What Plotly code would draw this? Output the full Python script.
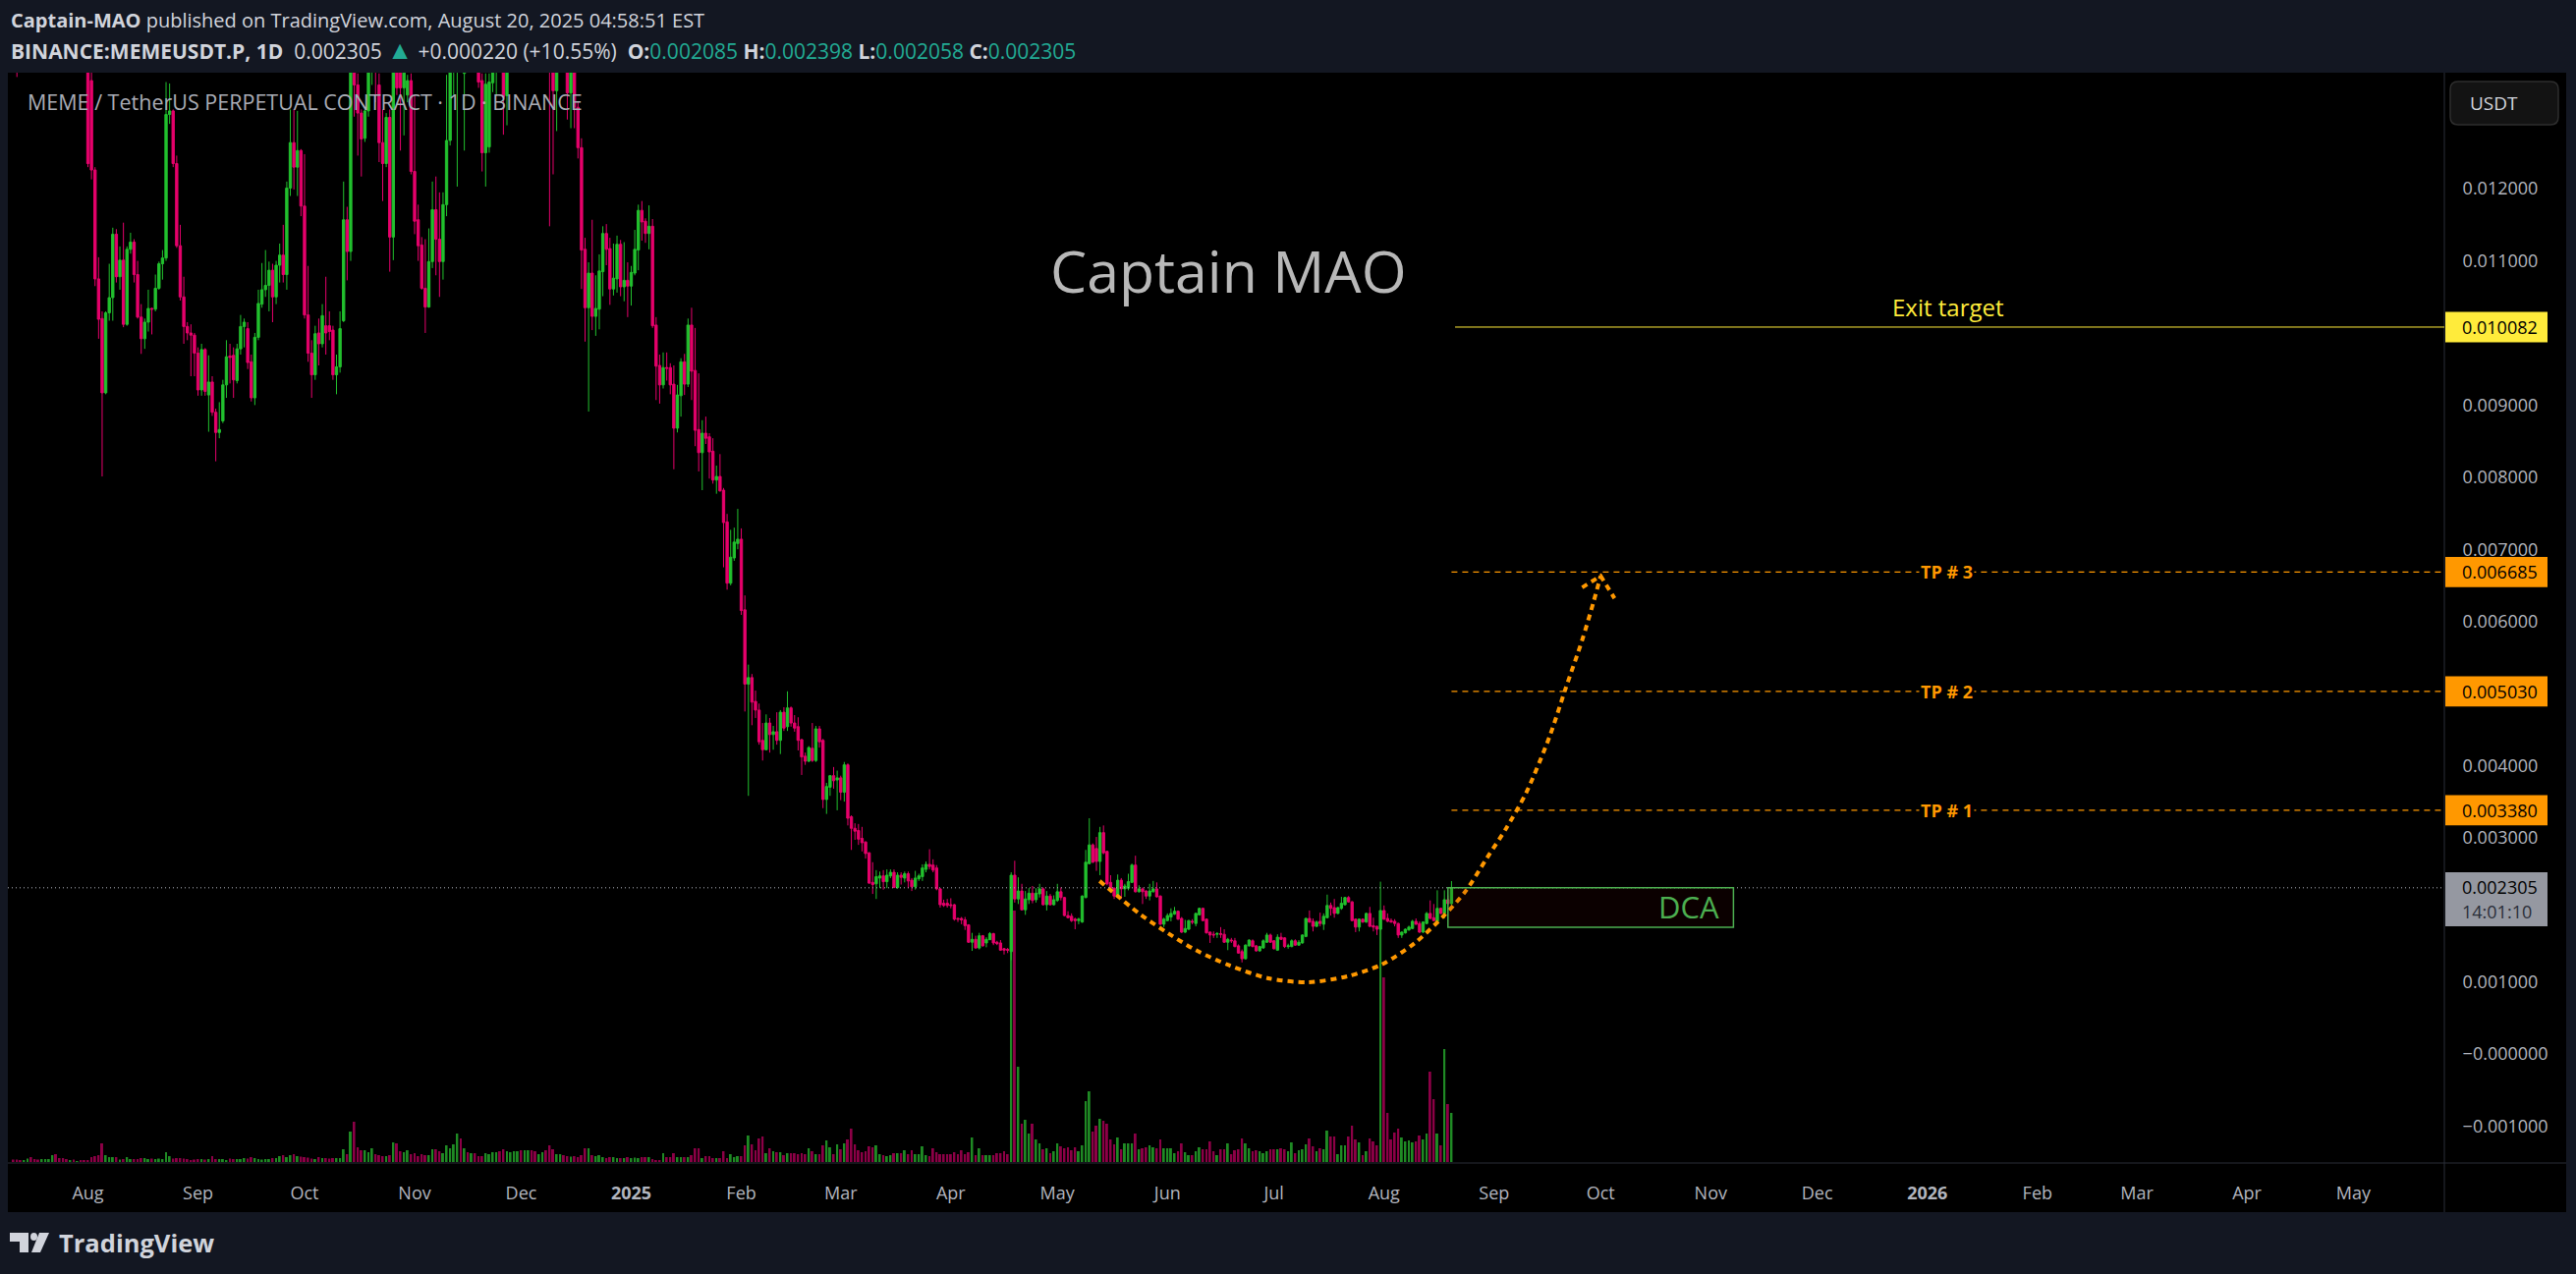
"""MEME / USDT daily chart with targets, redrawn from a published TradingView picture"""
import pandas as pd
import plotly.graph_objects as go

# daily candles, prices in thousandths of USDT, first bar 2024-07-11
first_day = pd.Timestamp("2024-07-11")

open_m = [
    15.2,14.9,14.6,14.4,14.8,15.1,14.8,14.6,14.4,14.7,
    14.9,15.2,15.8,15.3,15.0,14.8,14.6,14.9,14.7,14.9,
    14.6,14.2,13.5,12.26,10.75,10.2,9.17,10.28,10.49,11.37,
    10.78,11.01,10.12,11.16,11.26,10.81,10.22,9.92,10.15,10.34,
    10.33,10.62,10.96,11.04,13.03,13.08,12.35,11.21,10.50,10.09,
    10.00,9.97,9.72,9.21,9.77,9.14,9.32,8.90,8.62,8.78,
    9.28,9.68,9.69,9.34,9.78,10.09,10.06,9.60,9.10,9.94,
    10.40,10.60,10.66,10.87,10.50,10.94,11.08,10.81,12.01,12.64,
    12.30,12.53,11.76,10.25,9.72,9.42,10.0,9.85,10.10,10.10,
    10.04,9.42,9.53,10.17,11.57,11.13,14.2,13.44,13.05,12.7,
    13.08,13.9,14.3,13.44,12.64,12.35,12.99,11.33,13.9,13.8,
    13.4,13.3,13.5,12.24,11.57,11.22,10.62,10.36,10.99,11.71,
    11.30,10.99,11.78,12.67,14.0,14.1,14.4,13.6,14.2,14.0,
    14.4,14.2,13.5,12.5,12.58,13.47,13.7,14.3,14.4,13.29,
    14.3,14.6,14.8,15.0,14.8,15.1,15.3,15.0,14.8,15.0,
    15.2,15.0,14.4,13.36,14.4,14.6,14.3,13.33,14.2,13.13,
    12.57,11.16,10.35,10.83,10.23,10.33,10.85,11.38,11.17,10.61,
    10.75,11.23,10.64,10.73,10.65,10.83,11.15,11.70,11.55,11.38,
    11.48,10.11,9.55,9.28,9.52,9.52,9.29,8.68,9.13,9.60,
    9.29,10.11,9.48,8.66,8.34,8.61,8.56,8.36,7.96,8.01,
    7.82,7.38,6.53,6.88,7.08,7.14,6.16,5.13,5.22,4.89,
    4.77,4.35,4.22,4.59,4.43,4.47,4.35,4.74,4.54,4.80,
    4.59,4.54,4.36,4.13,4.06,4.24,4.07,4.51,4.35,3.53,
    3.70,3.86,3.80,3.83,3.63,4.01,3.29,3.13,3.10,2.99,
    2.94,2.79,2.38,2.36,2.44,2.47,2.39,2.47,2.52,2.31,
    2.48,2.44,2.50,2.41,2.32,2.43,2.46,2.56,2.63,2.62,
    2.58,2.29,2.09,2.09,2.07,2.07,1.88,1.88,1.86,1.79,
    1.55,1.59,1.47,1.64,1.54,1.585,1.67,1.55,1.54,1.46,
    1.45,1.42,2.48,2.15,2.26,2.00,2.14,2.23,2.14,2.22,
    2.29,2.07,2.19,2.07,2.13,2.25,2.17,1.92,1.91,1.87,
    1.85,1.83,2.17,2.64,2.90,2.85,2.67,3.07,2.81,2.38,
    2.30,2.19,2.41,2.29,2.30,2.38,2.62,2.25,2.29,2.26,
    2.19,2.25,2.29,2.19,1.80,1.85,1.90,1.94,1.98,1.88,
    1.69,1.73,1.84,1.81,1.93,2.02,1.87,1.69,1.66,1.66,
    1.67,1.66,1.55,1.58,1.57,1.50,1.42,1.32,1.50,1.57,
    1.50,1.43,1.47,1.55,1.65,1.57,1.44,1.62,1.61,1.49,
    1.49,1.57,1.51,1.54,1.63,1.88,1.84,1.77,1.84,1.80,
    1.89,2.06,2.03,1.95,2.02,2.07,2.17,2.11,1.87,1.76,
    1.87,1.83,1.95,1.78,1.77,1.73,1.99,1.88,1.85,1.84,
    1.81,1.65,1.68,1.72,1.74,1.84,1.81,1.69,1.81,1.95,
    1.89,1.84,2.02,1.95,2.14,2.085,
]
high_m = [
    15.4,15.3,14.8,14.9,15.3,15.3,15.0,14.8,14.9,15.1,
    15.4,16.0,16.0,15.5,15.2,15.0,15.1,15.1,15.1,15.1,
    14.8,14.5,14.0,12.3,11.05,10.3,10.3,10.96,11.46,11.44,
    11.2,11.53,11.2,11.39,11.3,11.0,10.4,10.2,10.6,10.35,
    10.81,10.99,11.15,13.48,13.46,13.1,12.46,11.5,10.78,10.15,
    10.12,10.0,9.8,9.85,9.79,9.69,9.4,8.95,9.04,9.35,
    9.9,9.85,9.8,9.85,10.25,10.2,10.15,9.7,10.0,10.6,
    10.97,11.15,10.99,10.96,11.0,11.24,11.5,12.1,13.1,13.1,
    13.08,12.55,12.48,10.93,9.9,10.1,10.2,10.4,10.78,10.3,
    10.1,9.7,10.3,12.1,11.75,14.5,14.5,13.6,13.1,13.1,
    14.2,14.6,14.6,13.6,13.1,13.05,13.1,14.2,14.2,14.2,
    14.2,13.58,13.6,13.3,11.78,11.33,11.3,11.45,12.1,12.17,
    11.95,11.95,13.58,14.3,14.6,14.6,14.7,14.4,14.4,14.5,
    14.6,14.5,13.6,13.6,13.6,14.5,14.4,14.5,14.6,14.5,
    14.8,15.0,15.2,15.2,15.3,15.5,15.5,15.2,15.2,15.4,
    15.4,15.2,14.6,14.6,14.8,14.8,14.6,14.6,14.4,13.2,
    12.70,11.32,10.98,11.57,10.80,11.09,11.48,11.51,11.32,11.24,
    11.35,11.29,11.26,10.98,10.93,11.43,11.78,11.83,11.59,11.77,
    11.58,10.22,9.70,9.73,9.73,9.58,9.55,9.28,9.65,9.71,
    10.20,10.35,10.07,9.44,8.79,8.84,8.61,8.54,8.16,8.32,
    7.85,7.49,7.27,7.30,7.56,7.29,6.36,5.40,5.27,5.04,
    4.86,4.59,4.71,4.66,4.55,4.74,4.77,4.81,5.03,4.82,
    4.70,4.67,4.37,4.18,4.27,4.59,4.55,4.55,4.37,3.76,
    3.87,3.98,3.93,3.86,4.05,4.03,3.31,3.20,3.19,3.15,
    2.95,2.80,2.66,2.55,2.53,2.55,2.56,2.56,2.56,2.52,
    2.52,2.53,2.53,2.44,2.54,2.50,2.63,2.67,2.84,2.70,
    2.62,2.30,2.14,2.15,2.16,2.08,1.89,1.90,1.90,1.80,
    1.68,1.64,1.68,1.65,1.62,1.69,1.68,1.57,1.58,1.47,
    1.47,2.52,2.68,2.45,2.36,2.26,2.30,2.33,2.30,2.36,
    2.31,2.26,2.22,2.20,2.36,2.31,2.18,1.98,1.95,1.89,
    1.89,2.20,2.83,3.27,2.92,3.01,3.15,3.17,2.82,2.48,
    2.31,2.49,2.44,2.36,2.50,2.64,2.75,2.34,2.31,2.27,
    2.36,2.40,2.38,2.20,1.89,1.95,2.02,2.04,1.99,1.90,
    1.86,1.86,1.87,1.96,2.03,2.03,1.88,1.70,1.70,1.69,
    1.76,1.73,1.61,1.61,1.61,1.52,1.45,1.52,1.59,1.59,
    1.51,1.50,1.59,1.68,1.67,1.58,1.66,1.68,1.62,1.53,
    1.59,1.59,1.58,1.66,1.89,1.99,1.88,1.85,1.96,1.95,
    2.21,2.10,2.15,2.04,2.18,2.18,2.19,2.12,1.88,1.88,
    1.88,1.96,2.04,1.89,1.78,2.39,2.06,1.95,1.88,1.87,
    1.82,1.70,1.74,1.78,1.86,1.88,1.84,1.84,1.97,2.13,
    2.08,2.27,2.03,2.27,2.2,2.398,
]
low_m = [
    14.7,13.55,14.2,14.2,14.6,14.6,14.4,14.2,14.2,14.5,
    14.7,15.0,15.1,14.8,14.6,14.4,14.4,14.5,14.5,14.4,
    14.0,12.3,12.13,10.65,9.92,8.01,9.15,10.17,10.17,10.7,
    10.6,10.08,10.1,11.1,10.7,10.2,9.71,9.78,10.02,9.98,
    10.3,10.6,10.74,11.0,12.9,12.3,11.18,10.45,9.85,9.9,
    9.4,9.40,9.13,9.13,9.13,8.63,8.85,8.22,8.54,8.75,
    9.1,9.3,9.1,9.3,9.7,9.8,9.5,9.05,9.0,9.9,
    10.35,10.5,10.3,10.15,10.4,10.7,10.7,10.6,11.9,11.99,
    11.9,11.62,10.2,9.6,9.1,9.35,9.55,9.8,9.7,9.9,
    9.35,9.15,9.45,10.15,10.73,11.0,13.0,12.46,12.17,12.65,
    13.0,13.44,13.2,12.37,11.83,12.3,10.85,11.01,13.3,12.53,
    12.74,13.2,12.2,11.37,11.0,10.6,10.0,10.35,10.9,10.8,
    10.5,10.74,11.62,12.6,13.3,12.03,13.9,12.53,13.8,13.8,
    13.9,13.4,12.24,12.03,12.5,13.34,13.29,13.8,12.75,12.88,
    14.1,14.4,14.6,14.6,14.6,14.9,14.8,14.6,14.6,14.8,
    14.8,11.48,12.2,12.8,14.0,14.0,12.96,12.84,12.84,12.42,
    10.61,9.88,8.91,10.04,9.96,10.05,10.51,10.94,10.39,10.52,
    10.56,10.51,10.44,10.22,10.38,10.80,10.87,11.28,11.25,11.16,
    10.07,9.07,9.02,9.23,9.34,9.15,8.11,8.62,8.84,9.14,
    9.25,9.07,8.43,8.08,7.82,8.46,7.98,7.91,7.77,7.80,
    6.75,6.44,6.50,6.84,7.00,6.09,4.75,3.58,4.56,4.66,
    4.29,4.07,4.21,4.18,4.22,4.29,4.16,4.48,4.48,4.54,
    4.47,4.21,3.87,4.01,4.05,4.05,4.05,4.25,3.41,3.33,
    3.58,3.68,3.38,3.52,3.50,3.17,2.83,2.97,2.90,2.81,
    2.71,2.36,2.22,2.15,2.30,2.28,2.30,2.44,2.30,2.29,
    2.35,2.38,2.30,2.26,2.28,2.40,2.40,2.52,2.56,2.52,
    2.27,2.03,2.04,2.03,2.02,1.85,1.83,1.80,1.72,1.54,
    1.43,1.46,1.45,1.49,1.48,1.58,1.51,1.51,1.43,1.38,
    1.40,1.30,2.10,2.08,1.99,1.93,2.08,2.09,2.10,2.17,
    2.06,1.99,2.06,2.06,2.11,2.13,1.91,1.88,1.83,1.73,
    1.80,1.82,2.16,2.63,2.65,2.54,2.48,2.77,2.34,2.27,
    2.15,2.17,2.15,2.18,2.27,2.37,2.24,2.24,2.08,2.15,
    2.13,2.24,2.17,1.79,1.76,1.84,1.84,1.93,1.86,1.68,
    1.68,1.72,1.80,1.77,1.92,1.84,1.67,1.54,1.61,1.61,
    1.61,1.54,1.44,1.54,1.48,1.39,1.27,1.31,1.49,1.48,
    1.42,1.42,1.46,1.54,1.54,1.45,1.43,1.58,1.47,1.46,
    1.48,1.50,1.50,1.53,1.62,1.82,1.70,1.76,1.77,1.72,
    1.88,1.92,1.89,1.94,2.00,2.06,2.10,1.84,1.69,1.70,
    1.82,1.82,1.76,1.70,1.65,1.72,1.86,1.83,1.82,1.77,
    1.61,1.61,1.67,1.71,1.73,1.79,1.68,1.68,1.80,1.87,
    1.84,1.83,1.94,1.88,2.07,2.058,
]
close_m = [
    14.9,14.6,14.4,14.8,15.1,14.8,14.6,14.4,14.7,14.9,
    15.2,15.8,15.3,15.0,14.8,14.6,14.9,14.7,14.9,14.6,
    14.2,12.35,12.26,10.75,10.19,9.17,10.28,10.49,11.37,10.78,
    11.01,10.12,11.16,11.26,10.81,10.22,9.92,10.15,10.34,10.33,
    10.62,10.96,11.04,13.03,13.08,12.35,11.21,10.50,10.09,10.00,
    9.97,9.72,9.21,9.77,9.19,9.32,8.90,8.62,8.66,9.28,
    9.67,9.66,9.35,9.78,10.09,10.15,9.59,9.10,9.94,10.41,
    10.60,10.66,10.87,10.50,10.94,11.08,10.81,12.01,12.64,12.30,
    12.53,11.76,10.25,9.72,9.42,9.99,9.85,10.24,10.0,10.02,
    9.42,9.53,10.06,11.57,11.13,14.0,13.44,13.05,12.69,13.08,
    13.9,14.3,14.0,12.64,12.35,12.99,11.33,13.9,13.4,13.4,
    13.9,13.5,12.24,11.55,11.21,10.62,10.36,10.99,11.71,11.30,
    10.99,11.78,12.67,14.0,14.3,14.4,14.0,14.2,14.0,14.3,
    14.1,13.48,12.50,13.45,13.48,14.0,14.1,14.0,13.27,14.3,
    14.6,14.8,15.0,14.8,15.1,15.3,15.0,14.8,15.0,15.2,
    15.0,14.2,13.36,14.4,14.6,14.2,13.33,14.2,13.13,12.57,
    11.15,10.35,10.83,10.23,10.34,10.86,11.38,11.16,10.61,10.76,
    11.23,10.64,10.73,10.65,10.84,11.16,11.70,11.54,11.38,11.48,
    10.10,9.54,9.28,9.52,9.51,9.28,8.68,9.14,9.60,9.29,
    10.11,9.47,8.65,8.34,8.61,8.54,8.35,7.96,8.01,7.81,
    7.37,6.53,6.89,7.10,7.14,6.15,5.13,5.22,4.88,4.77,
    4.33,4.22,4.59,4.43,4.47,4.35,4.74,4.52,4.80,4.59,
    4.52,4.35,4.12,4.06,4.25,4.07,4.51,4.33,3.53,3.71,
    3.86,3.79,3.83,3.63,4.01,3.27,3.13,3.09,2.98,2.93,
    2.78,2.37,2.35,2.46,2.47,2.39,2.48,2.52,2.31,2.48,
    2.45,2.50,2.40,2.32,2.44,2.47,2.58,2.63,2.60,2.55,
    2.29,2.07,2.06,2.06,2.06,1.87,1.87,1.86,1.78,1.55,
    1.59,1.47,1.64,1.50,1.59,1.67,1.54,1.53,1.44,1.44,
    1.44,2.48,2.15,2.26,2.00,2.15,2.23,2.13,2.23,2.29,
    2.07,2.19,2.07,2.14,2.25,2.17,1.92,1.89,1.85,1.85,
    1.87,2.19,2.66,2.90,2.66,2.67,3.07,2.79,2.36,2.30,
    2.19,2.41,2.29,2.33,2.39,2.62,2.25,2.29,2.25,2.19,
    2.26,2.29,2.18,1.80,1.87,1.92,1.95,1.98,1.87,1.69,
    1.74,1.85,1.83,1.95,2.02,1.85,1.68,1.65,1.65,1.67,
    1.66,1.55,1.59,1.57,1.49,1.40,1.32,1.51,1.58,1.49,
    1.43,1.49,1.57,1.65,1.55,1.46,1.62,1.59,1.49,1.50,
    1.57,1.51,1.55,1.65,1.88,1.83,1.77,1.83,1.81,1.91,
    2.06,2.02,1.95,2.03,2.09,2.17,2.11,1.85,1.76,1.87,
    1.83,1.95,1.77,1.76,1.73,1.99,1.87,1.84,1.83,1.81,
    1.65,1.69,1.73,1.76,1.84,1.80,1.69,1.83,1.95,1.88,
    1.85,2.02,1.95,2.14,2.085,2.305,
]
# volume has no printed scale, so it is in the units of its own hidden axis
volume = [
    2.5,2.5,1.5,2,3.5,5,3,2.5,3,3,
    3,7,8,4,4,3,2,2.5,1,2,
    2,2,5,6,7,19,7,5,5,5,
    2.5,3,5,3,3,3,4,4,3,3.5,
    3,3.5,3,10,6,3.5,4,4,3.5,3,
    2,2.5,3,3,2.5,3,6,3,3,3,
    2,3.5,3,3,3,4,3.5,5,4,3,
    2.5,3,3,4,4,6,7,5,7,8,
    6,5.5,5,4.5,3.5,3,5,4,4,3.5,
    4,4,4,13,8,31,41,15,12,12,
    10,14,8,7,6,6,7,20,19,11,
    10,12,8,9,6,8,7,7,13,13,
    11,9,17,14,18,29,24,14,10,9,
    9,6,6,9,8,10,10,11,13,11,
    10,11,11,12,12,12,12,11,8,10,
    12,17,13,8,8,7,6,5.5,6,5,
    7,14,14,7,6,7,5,4,5,5,
    4,4,4,5,4,4.5,4,5,5,5,
    3,2,2,9,5,5,9,5,5,5,
    5,7,14,14,4,6,6,4,4,4,
    11,4,8,5,6,6,17,27,18,12,
    24,26,9,14,11,10,10,7,9,9,
    9,8,9,8,14,11,8,8,17,22,
    15,8,18,13,19,23,34,18,12,10,
    11,16,15,17,8,7,6,7,9,9,
    9,12,8,12,8,8,16,7,6,14,
    10,8,8,8,8,10,8,12,8,10,
    25,7,14,7,7,7,7,9,9,11,
    8,256,256,97,39,43,29,39,23,19,
    13,14,9,11,19,16,14,15,12,15,
    11,17,62,72,31,37,44,42,39,23,
    18,25,13,19,19,19,29,13,14,15,
    17,15,14,23,14,14,14,9,11,19,
    10,7,7,11,15,13,13,21,11,7,
    13,13,19,8,12,13,24,19,14,11,
    12,11,9,11,13,13,13,14,13,11,
    20,9,12,13,18,24,16,11,14,13,
    32,26,26,8,17,17,26,37,23,20,
    7,11,24,21,17,250,188,50,23,30,
    34,25,21,22,20,21,27,23,29,92,
    64,29,17,115,59,50,
]

# bowl and arrow drawn on the chart, as days after first_day and price
curve_day = [305.9,317,325,333,342.4,353.4,364.6,375.9,385.3,394.7,402.7,409,415,420.4,426,432.6,437,441.8,445,447]
curve_m = [2.40,1.95,1.68,1.44,1.23,1.05,0.995,1.08,1.24,1.54,1.91,2.26,2.72,3.13,3.62,4.40,5.05,5.74,6.27,6.63]
arrow_day = [441.8,447,450.9]
arrow_m = [6.47,6.63,6.32]

last_price = 2.305
exit_target = 10.082
tp_levels = [3.380, 5.030, 6.685]
tp_labels = ["TP # 1", "TP # 2", "TP # 3"]
level_day = 405
dca_top, dca_bottom = 2.305, 1.757
dca_days = (404, 484.4)
label_day = 544.5

price_ticks = [12, 11, 9, 8, 7, 6, 4, 3, 1, 0, -1]
price_tick_labels = ["0.012000", "0.011000", "0.009000", "0.008000", "0.007000", "0.006000",
                     "0.004000", "0.003000", "0.001000", "−0.000000", "−0.001000"]
month_ticks = ["2024-08-01", "2024-09-01", "2024-10-01", "2024-11-01", "2024-12-01", "2025-01-01",
               "2025-02-01", "2025-03-01", "2025-04-01", "2025-05-01", "2025-06-01", "2025-07-01",
               "2025-08-01", "2025-09-01", "2025-10-01", "2025-11-01", "2025-12-01", "2026-01-01",
               "2026-02-01", "2026-03-01", "2026-04-01", "2026-05-01"]
month_labels = ["Aug", "Sep", "Oct", "Nov", "Dec", "<b>2025</b>", "Feb", "Mar", "Apr", "May", "Jun", "Jul",
                "Aug", "Sep", "Oct", "Nov", "Dec", "<b>2026</b>", "Feb", "Mar", "Apr", "May"]

WIDTH, HEIGHT = 2622, 1297
FONT = "Open Sans"
BG = "#131722"
UP, DOWN = "#22c02e", "#e6006b"
VOL_UP, VOL_DOWN = "#1f8a24", "#8c0046"
ORANGE = "#ff9800"
YELLOW = "#ffeb3b"
TEAL = "#22ab94"
GRID = "#2a2e39"
TEXT = "#d1d4dc"


def day(offset):
    return first_day + pd.to_timedelta(offset, unit="D")


def px_x(x):
    return x / WIDTH


def px_y(y):
    return 1 - y / HEIGHT


def text_at(x, y, text, size, color=TEXT, anchor="left", **kwargs):
    return dict(xref="paper", yref="paper", x=px_x(x), y=px_y(y), text=text, showarrow=False,
                xanchor=anchor, yanchor="middle", font=dict(family=FONT, size=size, color=color), **kwargs)


def paper_rect(x0, y0, x1, y1, fill, layer="below", line=None):
    return dict(type="rect", xref="paper", yref="paper", x0=px_x(x0), x1=px_x(x1), y0=px_y(y0), y1=px_y(y1),
                fillcolor=fill, layer=layer, line=line or dict(width=0))


def poly(points, fill):
    path = "M" + " L".join(f"{px_x(x)},{px_y(y)}" for x, y in points) + " Z"
    return dict(type="path", xref="paper", yref="paper", path=path, fillcolor=fill, line=dict(width=0))


dates = [day(i) for i in range(len(open_m))]
to_price = lambda values: [v / 1000 for v in values]
vol_colors = [VOL_UP if c >= o else VOL_DOWN for o, c in zip(open_m, close_m)]

fig = go.Figure()
fig.add_trace(go.Bar(x=dates, y=volume, marker=dict(color=vol_colors, line=dict(width=0)), yaxis="y", showlegend=False))
fig.add_trace(go.Candlestick(
    x=dates, open=to_price(open_m), high=to_price(high_m), low=to_price(low_m), close=to_price(close_m),
    yaxis="y2", whiskerwidth=0, showlegend=False,
    increasing=dict(line=dict(color=UP, width=1), fillcolor=UP),
    decreasing=dict(line=dict(color=DOWN, width=1), fillcolor=DOWN),
))
fig.add_trace(go.Scatter(
    x=[day(d) for d in curve_day], y=to_price(curve_m), yaxis="y2", mode="lines", showlegend=False,
    line=dict(color=ORANGE, width=4, dash="6px,5px", shape="spline", smoothing=0.8),
))
fig.add_trace(go.Scatter(
    x=[day(d) for d in arrow_day], y=to_price(arrow_m), yaxis="y2", mode="lines", showlegend=False,
    line=dict(color=ORANGE, width=4, dash="6px,5px"),
))

shapes = [
    paper_rect(8, 74, 2612, 1234, "#000000"),
    dict(type="line", xref="paper", yref="paper", x0=px_x(2488), x1=px_x(2488), y0=px_y(74), y1=px_y(1234),
         line=dict(color=GRID, width=1)),
    dict(type="line", xref="paper", yref="paper", x0=px_x(8), x1=px_x(2612), y0=px_y(1184), y1=px_y(1184),
         line=dict(color=GRID, width=1)),
    dict(type="line", xref="x domain", yref="y2", x0=0, x1=1, y0=last_price / 1000, y1=last_price / 1000,
         line=dict(color="#b2b5be", width=1, dash="1px,3px")),
    dict(type="rect", xref="x", yref="y2", x0=day(dca_days[0]), x1=day(dca_days[1]),
         y0=dca_bottom / 1000, y1=dca_top / 1000, fillcolor="rgba(90,0,0,0.12)",
         line=dict(color="#4caf50", width=1.5)),
    dict(type="line", xref="x", yref="y2", x0=day(level_day + 1), x1=day(684.6),
         y0=exit_target / 1000, y1=exit_target / 1000, line=dict(color=YELLOW, width=1)),
]
for level in tp_levels:
    shapes.append(dict(type="line", xref="x", yref="y2", x0=day(level_day), x1=day(684),
                       y0=level / 1000, y1=level / 1000, line=dict(color=ORANGE, width=1.3, dash="6px,5px")))

# price tags on the right hand scale
for level, fill in [(exit_target, YELLOW)] + [(t, ORANGE) for t in tp_levels]:
    shapes.append(dict(type="rect", xref="paper", yref="y2", x0=px_x(2489), x1=px_x(2593),
                       y0=(level - 0.21) / 1000, y1=(level + 0.21) / 1000, fillcolor=fill, line=dict(width=0)))
shapes.append(paper_rect(2489, 888, 2593, 943, "#9598a1", layer="above"))

# USDT button
x0, y0, x1, y1, r = px_x(2494), px_y(83), px_x(2604), px_y(127), 8
rx, ry = r / WIDTH, r / HEIGHT
shapes.append(dict(
    type="path", xref="paper", yref="paper", fillcolor="#131313", line=dict(color="#2e2e2e", width=1.5),
    path=(f"M{x0 + rx},{y0} L{x1 - rx},{y0} Q{x1},{y0} {x1},{y0 - ry} L{x1},{y1 + ry} Q{x1},{y1} {x1 - rx},{y1} "
          f"L{x0 + rx},{y1} Q{x0},{y1} {x0},{y1 + ry} L{x0},{y0 - ry} Q{x0},{y0} {x0 + rx},{y0} Z"),
))

# TradingView mark
shapes += [
    poly([(10, 1255), (29, 1255), (29, 1275), (20, 1275), (20, 1264), (10, 1264)], TEXT),
    dict(type="circle", xref="paper", yref="paper", x0=px_x(31), x1=px_x(38), y0=px_y(1255), y1=px_y(1263),
         fillcolor=TEXT, line=dict(width=0)),
    poly([(40, 1255), (50, 1255), (41, 1275), (32, 1275)], TEXT),
]

quote = (
    f"<b>BINANCE:MEMEUSDT.P, 1D</b>\u00a0\u00a00.002305\u00a0"
    f"<span style='color:{TEAL};font-size:26px'>▲</span>"
    f"\u00a0+0.000220 (+10.55%)\u00a0\u00a0"
    f"<b>O:</b><span style='color:{TEAL}'>0.002085</span>\u00a0"
    f"<b>H:</b><span style='color:{TEAL}'>0.002398</span>\u00a0"
    f"<b>L:</b><span style='color:{TEAL}'>0.002058</span>\u00a0"
    f"<b>C:</b><span style='color:{TEAL}'>0.002305</span>"
)

annotations = [
    text_at(9, 20, "<b>Captain-MAO</b> published on TradingView.com, August 20, 2025 04:58:51 EST", 20),
    text_at(9, 50, quote, 21),
    text_at(26, 104, "MEME / TetherUS PERPETUAL CONTRACT · 1D · BINANCE", 21.5, color="#a9acb5"),
    text_at(1250, 275, "Captain MAO", 59, color="#b8b8b8", anchor="center"),
    text_at(1983, 312, "Exit target", 24, color=YELLOW, anchor="center"),
    text_at(1752, 923, "DCA", 31, color="#4caf50", anchor="right"),
    text_at(2512, 105, "USDT", 19),
    text_at(2504, 903, "0.002305", 18, color="#000000"),
    text_at(2504, 928, "14:01:10", 18, color="#2a2e39"),
    text_at(58, 1265, "<b>TradingView</b>", 25.5),
]
for level, label in zip(tp_levels, tp_labels):
    annotations.append(dict(x=day(label_day), y=level / 1000, xref="x", yref="y2", text=f"<b>{label}</b>",
                            showarrow=False, bgcolor="#000000", font=dict(family=FONT, size=18, color=ORANGE)))
for level in [exit_target] + tp_levels:
    annotations.append(dict(x=px_x(2504), y=level / 1000, xref="paper", yref="y2", text=f"{level / 1000:.6f}",
                            showarrow=False, xanchor="left", font=dict(family=FONT, size=18, color="#000000")))

domain_y = [px_y(1184), px_y(74)]
fig.update_layout(
    width=WIDTH, height=HEIGHT, margin=dict(l=0, r=0, t=0, b=0),
    paper_bgcolor=BG, plot_bgcolor="rgba(0,0,0,0)", showlegend=False,
    bargap=0.45, boxgap=0.35, boxgroupgap=0, dragmode=False,
    xaxis=dict(
        domain=[px_x(8), px_x(2488)], range=[day(-1.55), day(684.6)], type="date", showgrid=False, zeroline=False,
        rangeslider=dict(visible=False), tickmode="array", tickvals=month_ticks, ticktext=month_labels,
        ticks="outside", ticklen=14, tickcolor="rgba(0,0,0,0)", tickangle=0,
        tickfont=dict(family=FONT, size=18, color="#b2b5be"),
    ),
    yaxis=dict(domain=domain_y, range=[-1, 1109], visible=False),
    yaxis2=dict(
        domain=domain_y, overlaying="y", side="right", anchor="x", range=[-0.001512, 0.01361], showgrid=False,
        zeroline=False, tickmode="array", tickvals=[t / 1000 for t in price_ticks], ticktext=price_tick_labels,
        ticks="outside", ticklen=14, tickcolor="rgba(0,0,0,0)",
        tickfont=dict(family=FONT, size=18, color="#b2b5be"),
    ),
    shapes=shapes, annotations=annotations,
)

fig.write_html("out.html", config=dict(displayModeBar=False),
               post_script="document.body.style.margin='0';document.body.style.background='#131722';")
